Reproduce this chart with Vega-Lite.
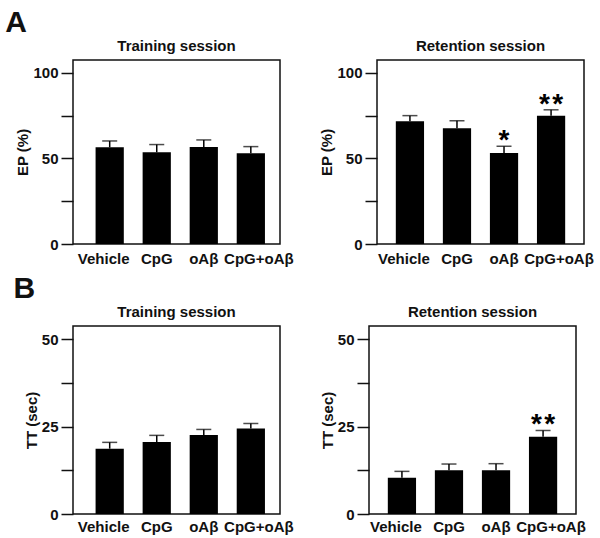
{
  "$schema": "https://vega.github.io/schema/vega-lite/v6.json",
  "background": "white",
  "padding": {"left": 5, "top": 8, "right": 5, "bottom": 0},
  "datasets": {
    "epTrain": [
      {"group": "Vehicle", "mean": 56.5, "upper": 60.2, "sig": ""},
      {"group": "CpG", "mean": 53.6, "upper": 58.1, "sig": ""},
      {"group": "oAβ", "mean": 56.7, "upper": 60.8, "sig": ""},
      {"group": "CpG+oAβ", "mean": 53.0, "upper": 56.9, "sig": ""}
    ],
    "epRet": [
      {"group": "Vehicle", "mean": 71.7, "upper": 75.0, "sig": ""},
      {"group": "CpG", "mean": 67.6, "upper": 72.0, "sig": ""},
      {"group": "oAβ", "mean": 53.2, "upper": 57.1, "sig": "*"},
      {"group": "CpG+oAβ", "mean": 75.0, "upper": 78.4, "sig": "*\u200a*"}
    ],
    "ttTrain": [
      {"group": "Vehicle", "mean": 18.7, "upper": 20.5, "sig": ""},
      {"group": "CpG", "mean": 20.6, "upper": 22.5, "sig": ""},
      {"group": "oAβ", "mean": 22.6, "upper": 24.2, "sig": ""},
      {"group": "CpG+oAβ", "mean": 24.5, "upper": 25.9, "sig": ""}
    ],
    "ttRet": [
      {"group": "Vehicle", "mean": 10.4, "upper": 12.2, "sig": ""},
      {"group": "CpG", "mean": 12.5, "upper": 14.3, "sig": ""},
      {"group": "oAβ", "mean": 12.5, "upper": 14.4, "sig": ""},
      {"group": "CpG+oAβ", "mean": 22.1, "upper": 23.9, "sig": "*\u200a*"}
    ]
  },
  "vconcat": [
    {
      "title": {"text": "A", "fontSize": 30, "anchor": "start", "dx": -10, "dy": 0, "offset": 0},
      "spacing": 25,
      "hconcat": [
        {
          "width": 207, "height": 184,
          "title": "Training session",
          "data": {"name": "epTrain"},
          "encoding": {
            "x": {"field": "group", "type": "nominal", "sort": null,
              "scale": {"paddingInner": 0.4, "paddingOuter": 0.4, "align": 0.6},
              "axis": {"labelOffset": {"condition": [{"test": "datum.value === 'Vehicle'", "value": -6}, {"test": "datum.value === 'CpG+oAβ'", "value": 8}], "value": 0}}}
          },
          "layer": [
            {"mark": {"type": "bar", "color": "#000"},
             "encoding": {"y": {"field": "mean", "type": "quantitative", "title": "EP (%)",
               "scale": {"domain": [0, 107.5], "nice": false},
               "axis": {"values": [0, 25, 50, 75, 100], "labelExpr": "datum.value % 50 === 0 ? datum.label : ''"}}}},
            {"mark": {"type": "rule", "strokeWidth": 1.5, "color": "#000"},
             "encoding": {"y": {"field": "mean", "type": "quantitative", "title": "EP (%)"}, "y2": {"field": "upper"}}},
            {"mark": {"type": "tick", "size": 15, "thickness": 1.5, "color": "#000"},
             "encoding": {"y": {"field": "upper", "type": "quantitative", "title": "EP (%)"}}},
            {"mark": {"type": "text", "fontSize": 28, "fontWeight": "bold", "baseline": "alphabetic", "dy": 3, "color": "#000"},
             "encoding": {"y": {"field": "upper", "type": "quantitative", "title": "EP (%)"}, "text": {"field": "sig"}}}
          ]
        },
        {
          "width": 207, "height": 184,
          "title": "Retention session",
          "data": {"name": "epRet"},
          "encoding": {
            "x": {"field": "group", "type": "nominal", "sort": null,
              "scale": {"paddingInner": 0.4, "paddingOuter": 0.4, "align": 0.5},
              "axis": {"labelOffset": {"condition": [{"test": "datum.value === 'Vehicle'", "value": -6}, {"test": "datum.value === 'CpG+oAβ'", "value": 8}], "value": 0}}}
          },
          "layer": [
            {"mark": {"type": "bar", "color": "#000"},
             "encoding": {"y": {"field": "mean", "type": "quantitative", "title": "EP (%)",
               "scale": {"domain": [0, 107.5], "nice": false},
               "axis": {"values": [0, 25, 50, 75, 100], "labelExpr": "datum.value % 50 === 0 ? datum.label : ''"}}}},
            {"mark": {"type": "rule", "strokeWidth": 1.5, "color": "#000"},
             "encoding": {"y": {"field": "mean", "type": "quantitative", "title": "EP (%)"}, "y2": {"field": "upper"}}},
            {"mark": {"type": "tick", "size": 15, "thickness": 1.5, "color": "#000"},
             "encoding": {"y": {"field": "upper", "type": "quantitative", "title": "EP (%)"}}},
            {"mark": {"type": "text", "fontSize": 28, "fontWeight": "bold", "baseline": "alphabetic", "dy": 3, "color": "#000"},
             "encoding": {"y": {"field": "upper", "type": "quantitative", "title": "EP (%)"}, "text": {"field": "sig"}}}
          ]
        }
      ]
    },
    {
      "title": {"text": "B", "fontSize": 30, "anchor": "start", "dx": -10, "dy": 0, "offset": 0},
      "spacing": 25,
      "hconcat": [
        {
          "width": 207, "height": 188,
          "title": "Training session",
          "data": {"name": "ttTrain"},
          "encoding": {
            "x": {"field": "group", "type": "nominal", "sort": null,
              "scale": {"paddingInner": 0.4, "paddingOuter": 0.4, "align": 0.6},
              "axis": {"labelPadding": 5, "labelOffset": {"condition": [{"test": "datum.value === 'Vehicle'", "value": -6}, {"test": "datum.value === 'CpG+oAβ'", "value": 8}], "value": 0}}}
          },
          "layer": [
            {"mark": {"type": "bar", "color": "#000"},
             "encoding": {"y": {"field": "mean", "type": "quantitative", "title": "TT (sec)",
               "scale": {"domain": [0, 53.8], "nice": false},
               "axis": {"values": [0, 12.5, 25, 37.5, 50], "labelExpr": "datum.value % 25 === 0 ? datum.label : ''"}}}},
            {"mark": {"type": "rule", "strokeWidth": 1.5, "color": "#000"},
             "encoding": {"y": {"field": "mean", "type": "quantitative", "title": "TT (sec)"}, "y2": {"field": "upper"}}},
            {"mark": {"type": "tick", "size": 15, "thickness": 1.5, "color": "#000"},
             "encoding": {"y": {"field": "upper", "type": "quantitative", "title": "TT (sec)"}}},
            {"mark": {"type": "text", "fontSize": 28, "fontWeight": "bold", "baseline": "alphabetic", "dy": 3, "color": "#000"},
             "encoding": {"y": {"field": "upper", "type": "quantitative", "title": "TT (sec)"}, "text": {"field": "sig"}}}
          ]
        },
        {
          "width": 207, "height": 188,
          "title": "Retention session",
          "data": {"name": "ttRet"},
          "encoding": {
            "x": {"field": "group", "type": "nominal", "sort": null,
              "scale": {"paddingInner": 0.4, "paddingOuter": 0.4, "align": 0.5},
              "axis": {"labelPadding": 5, "labelOffset": {"condition": [{"test": "datum.value === 'Vehicle'", "value": -6}, {"test": "datum.value === 'CpG+oAβ'", "value": 8}], "value": 0}}}
          },
          "layer": [
            {"mark": {"type": "bar", "color": "#000"},
             "encoding": {"y": {"field": "mean", "type": "quantitative", "title": "TT (sec)",
               "scale": {"domain": [0, 53.8], "nice": false},
               "axis": {"values": [0, 12.5, 25, 37.5, 50], "labelExpr": "datum.value % 25 === 0 ? datum.label : ''"}}}},
            {"mark": {"type": "rule", "strokeWidth": 1.5, "color": "#000"},
             "encoding": {"y": {"field": "mean", "type": "quantitative", "title": "TT (sec)"}, "y2": {"field": "upper"}}},
            {"mark": {"type": "tick", "size": 15, "thickness": 1.5, "color": "#000"},
             "encoding": {"y": {"field": "upper", "type": "quantitative", "title": "TT (sec)"}}},
            {"mark": {"type": "text", "fontSize": 28, "fontWeight": "bold", "baseline": "alphabetic", "dy": 3, "color": "#000"},
             "encoding": {"y": {"field": "upper", "type": "quantitative", "title": "TT (sec)"}, "text": {"field": "sig"}}}
          ]
        }
      ]
    }
  ],
  "spacing": 7,
  "config": {
    "font": "Liberation Sans",
    "view": {"stroke": "#111", "strokeWidth": 1.5},
    "axis": {
      "labelFont": "Liberation Sans", "labelFontWeight": "bold", "labelFontSize": 15, "labelColor": "#111",
      "titleFont": "Liberation Sans", "titleFontSize": 15, "titleFontWeight": "bold", "titleColor": "#111",
      "domain": false, "grid": false, "tickColor": "#111", "tickWidth": 1.5, "labelOverlap": false
    },
    "axisX": {"ticks": false, "labelAngle": 0, "labelPadding": 7, "title": null},
    "axisY": {"tickSize": 12, "labelPadding": 3, "titlePadding": 2},
    "title": {"font": "Liberation Sans", "fontSize": 15, "fontWeight": "bold", "color": "#111", "offset": 6}
  }
}
